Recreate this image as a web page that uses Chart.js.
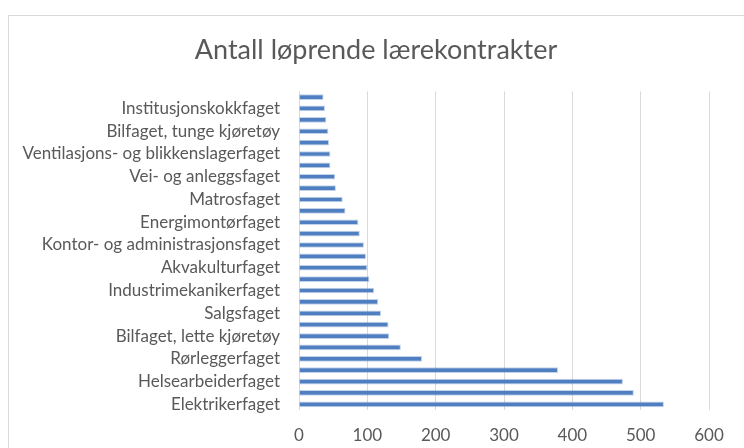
<!DOCTYPE html>
<html lang="no">
<head>
<meta charset="UTF-8">
<title>Antall løprende lærekontrakter</title>
<script src="https://cdn.jsdelivr.net/npm/chart.js"></script>
<style>
  html, body { margin: 0; padding: 0; background: #fff; }
</style>
</head>
<body>
<canvas id="chart" width="744" height="448"></canvas>
<script>
// categories top to bottom; only every other one is labelled in the original
const fag = [
  'Frisørfaget', 'Institusjonskokkfaget', 'Maler- og overflateteknikkfaget', 'Bilfaget, tunge kjøretøy',
  'Kjøle- og varmepumpefaget', 'Ventilasjons- og blikkenslagerfaget', 'Automatiseringsfaget', 'Vei- og anleggsfaget',
  'Logistikkfaget', 'Matrosfaget', 'Byggdrifterfaget', 'Energimontørfaget',
  'Murerfaget', 'Kontor- og administrasjonsfaget', 'IKT-servicefaget', 'Akvakulturfaget',
  'Betongfaget', 'Industrimekanikerfaget', 'Kokkfaget', 'Salgsfaget',
  'Anleggsmaskinførerfaget', 'Bilfaget, lette kjøretøy', 'Platearbeiderfaget', 'Rørleggerfaget',
  'Barne- og ungdomsarbeiderfaget', 'Helsearbeiderfaget', 'Tømrerfaget', 'Elektrikerfaget'
];
const kontrakter = [
  36, 38, 40, 43,
  44, 46, 46, 53,
  54, 64, 68, 87,
  89, 95, 98, 100,
  103, 110, 116, 120,
  131, 132, 149, 180,
  379, 474, 490, 534
];
const xMin = 0, xMax = 600, xStep = 100;
const tittel = 'Antall løprende lærekontrakter';

const fontFam = 'Lato, "Noto Sans", sans-serif';
const grey = '#595959';

// light frame around the chart, like the Excel chart area
const frame = {
  id: 'frame',
  beforeDraw(c) {
    const g = c.ctx;
    g.save();
    g.strokeStyle = '#d9d9d9';
    g.lineWidth = 1;
    g.strokeRect(8.5, 15.5, 760, 460);
    g.restore();
  }
};

new Chart(document.getElementById('chart'), {
  type: 'bar',
  data: {
    labels: fag,
    datasets: [{
      data: kontrakter,
      backgroundColor: '#4f7fc0',
      borderColor: 'rgba(79,127,192,0.35)',
      borderWidth: 1,
      categoryPercentage: 1,
      barPercentage: 0.5
    }]
  },
  options: {
    indexAxis: 'y',
    responsive: false,
    animation: false,
    devicePixelRatio: 1,
    layout: { padding: { left: 8, right: 0, top: 0, bottom: 0 } },
    plugins: {
      legend: { display: false },
      tooltip: { enabled: false },
      title: {
        display: true,
        text: tittel,
        color: grey,
        font: { family: fontFam, size: 27, weight: 'normal', lineHeight: 1.2 },
        padding: { top: 34, bottom: 25 }
      }
    },
    scales: {
      x: {
        min: xMin,
        max: xMax,
        ticks: { stepSize: xStep, color: grey, font: { family: fontFam, size: 17 }, padding: 15, maxRotation: 0 },
        grid: { color: '#d9d9d9', drawTicks: false },
        border: { display: false },
        afterFit(s) { s.height = 38; }
      },
      y: {
        ticks: {
          autoSkip: false,
          color: grey,
          font: { family: fontFam, size: 17 },
          padding: 19,
          callback(v, i) { return i % 2 === 1 ? fag[i] : ''; }
        },
        grid: { display: false, drawTicks: false },
        border: { display: false },
        afterFit(s) { s.width = 291; }
      },
      // empty right-hand axis, only to keep blank space right of the plot
      spacer: {
        position: 'right',
        ticks: { display: false },
        grid: { display: false, drawTicks: false },
        border: { display: false },
        afterFit(s) { s.width = 35; }
      }
    }
  },
  plugins: [frame]
});
</script>
</body>
</html>
